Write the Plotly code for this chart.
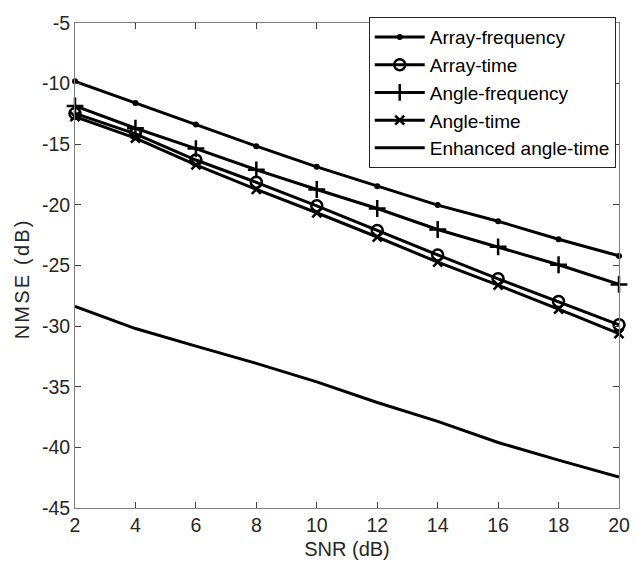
import plotly.graph_objects as go

snr = [2, 4, 6, 8, 10, 12, 14, 16, 18, 20]
array_frequency = [-9.81, -11.60, -13.38, -15.16, -16.86, -18.46, -20.02, -21.35, -22.84, -24.21]
array_time = [-12.46, -14.14, -16.30, -18.14, -20.08, -22.11, -24.13, -26.10, -27.97, -29.89]
angle_frequency = [-11.84, -13.68, -15.36, -17.11, -18.73, -20.30, -22.03, -23.46, -24.94, -26.56]
angle_time = [-12.73, -14.49, -16.70, -18.73, -20.65, -22.65, -24.72, -26.62, -28.59, -30.62]
enhanced_angle_time = [-28.37, -30.20, -31.65, -33.07, -34.60, -36.30, -37.85, -39.60, -41.05, -42.45]

x_ticks = [2, 4, 6, 8, 10, 12, 14, 16, 18, 20]
y_ticks = [-45, -40, -35, -30, -25, -20, -15, -10, -5]
y_tick_labels = ["-45", "-40", "-35", "-30", "-25", "-20", "-15", "-10", "-5"]

names = ["Array-frequency", "Array-time", "Angle-frequency", "Angle-time", "Enhanced angle-time"]
series = [array_frequency, array_time, angle_frequency, angle_time, enhanced_angle_time]
markers = [
    dict(symbol="circle", size=6, color="black"),
    dict(symbol="circle-open", size=11, color="black", line=dict(width=2.5, color="black")),
    dict(symbol="cross-thin-open", size=12, color="black", line=dict(width=2.5, color="black")),
    dict(symbol="x-thin-open", size=9, color="black", line=dict(width=2.5, color="black")),
    None,
]

fig = go.Figure()
for i, (name, ys, mk) in enumerate(zip(names, series, markers)):
    fig.add_trace(go.Scatter(
        x=snr, y=ys, name=name,
        mode="lines+markers" if mk else "lines",
        line=dict(color="black", width=3),
        marker=mk if mk else None,
        legendgroup=f"g{i}",
        cliponaxis=False,
    ))

axis_color = "#262626"
font_family = "Liberation Sans, Arial"
common = dict(
    showline=True, linecolor="#808080", linewidth=1, mirror="ticks",
    ticks="inside", ticklen=6, tickcolor="#404040", tickwidth=1,
    showgrid=False, zeroline=False,
    tickfont=dict(family=font_family, size=19.5, color=axis_color),
    title_font=dict(family=font_family, size=20, color=axis_color),
)
fig.update_xaxes(range=[2, 20], tickvals=x_ticks, title_text="SNR (dB)", title_standoff=6, **common)
fig.update_yaxes(range=[-45, -5], tickvals=y_ticks, ticktext=y_tick_labels, **common)

fig.add_annotation(
    text='<span style="letter-spacing:2.2px">NMSE (dB)</span>',
    xref="paper", yref="paper", x=-0.098, y=0.473,
    xanchor="center", yanchor="middle", textangle=-90, showarrow=False,
    font=dict(family=font_family, size=20, color=axis_color),
)

fig.update_layout(
    width=642, height=571,
    margin=dict(l=75, r=12, t=14, b=63),
    plot_bgcolor="white", paper_bgcolor="white",
    legend=dict(
        x=0.994, y=1.012, xanchor="right", yanchor="top",
        bgcolor="white", bordercolor=axis_color, borderwidth=1,
        font=dict(family=font_family, size=19, color="black"),
        itemwidth=50, tracegroupgap=0,
    ),
)

fig.write_html("out.html", config={"displayModeBar": False},
               post_script="document.body.style.margin='0';document.body.style.padding='0';")
